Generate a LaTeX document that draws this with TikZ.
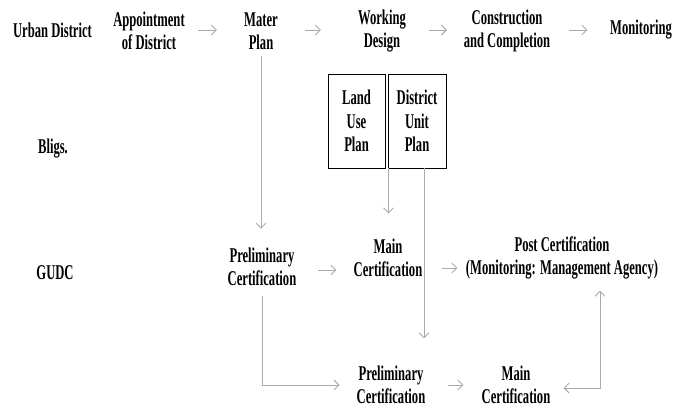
\documentclass[tikz,border=0pt]{standalone}
\usepackage{fontspec}
\setmainfont[FakeStretch=0.6]{Liberation Serif}
\usetikzlibrary{arrows.meta,calc}
\definecolor{arrgray}{RGB}{170,170,170}
\tikzset{
  lbl/.style={align=center, inner sep=0pt, text=black,
    font=\fontsize{21}{23.5}\selectfont\bfseries},
  planbox/.style={lbl, draw=black, line width=0.9pt, minimum height=94pt},
  arr/.style={draw=arrgray, line width=0.9pt, -{Straight Barb[length=5pt,width=10pt]}},
  arrboth/.style={draw=arrgray, line width=0.9pt, {Straight Barb[length=5pt,width=10pt]}-{Straight Barb[length=5pt,width=10pt]}}
}
\begin{document}
\begin{tikzpicture}[x=1pt,y=-1pt]
\useasboundingbox (0,0) rectangle (688,410);
% row labels
\node[lbl] (urban) at (52.5,30) {Urban District};
\node[lbl] (bligs) at (53,149) {Bligs.};
\node[lbl] (gudc)  at (55,273) {GUDC};
% top row
\node[lbl] (appt)   at (149,31) {Appointment\\of District};
\node[lbl] (mater)  at (261,31) {Mater\\Plan};
\node[lbl] (work)   at (382,31) {Working\\Design};
\node[lbl] (constr) at (507,31) {Construction\\and Completion};
\node[lbl] (monit)  at (641,30) {Monitoring};
% plan boxes
\node[planbox, minimum width=57pt] (land) at (356.5,121) {Land\\Use\\Plan};
\node[planbox, minimum width=58pt] (dup)  at (417,121) {District\\Unit\\Plan};
% GUDC row
\node[lbl] (prelim) at (262,267) {Preliminary\\Certification};
\node[lbl] (main)   at (388,258) {Main\\Certification};
\node[lbl] (post)   at (562,258) {Post Certification\\(Monitoring: Management Agency)};
% bottom row
\node[lbl] (bprelim) at (391,385) {Preliminary\\Certification};
\node[lbl] (bmain)   at (516,385) {Main\\Certification};
% top arrows
\draw[arr] ($(appt.east)+(13,-1)$) -- ++(19,0);
\draw[arr] ($(mater.east)+(27,-1)$) -- ++(16,0);
\draw[arr] ($(work.east)+(23,-1)$) -- ++(18,0);
\draw[arr] ($(constr.east)+(19,-1)$) -- ++(18,0);
% verticals
\draw[arr, shorten <=6pt, shorten >=19pt] (mater.south) -- (mater.south |- prelim.north);
\draw[arr] ($(land.south east)+(3,0)$) -- ++(0,45);
\draw[arr] ($(dup.south)+(7,0)$) -- ($(dup.south)+(7,170)$);
% GUDC row arrows
\draw[arr] ($(prelim.east)+(22,3)$) -- ++(18,0);
\draw[arr] ($(main.east)+(20,10)$) -- ++(15,0);
\draw[arr] ($(bprelim.east)+(23,0)$) -- ++(15,0);
% bends
\draw[arr, shorten <=10pt, shorten >=17pt] (prelim.south) |- (bprelim.west);
\draw[arrboth] ($(bmain.east)+(13,3)$) -| ($(post.south)+(38,11)$);
\end{tikzpicture}
\end{document}
